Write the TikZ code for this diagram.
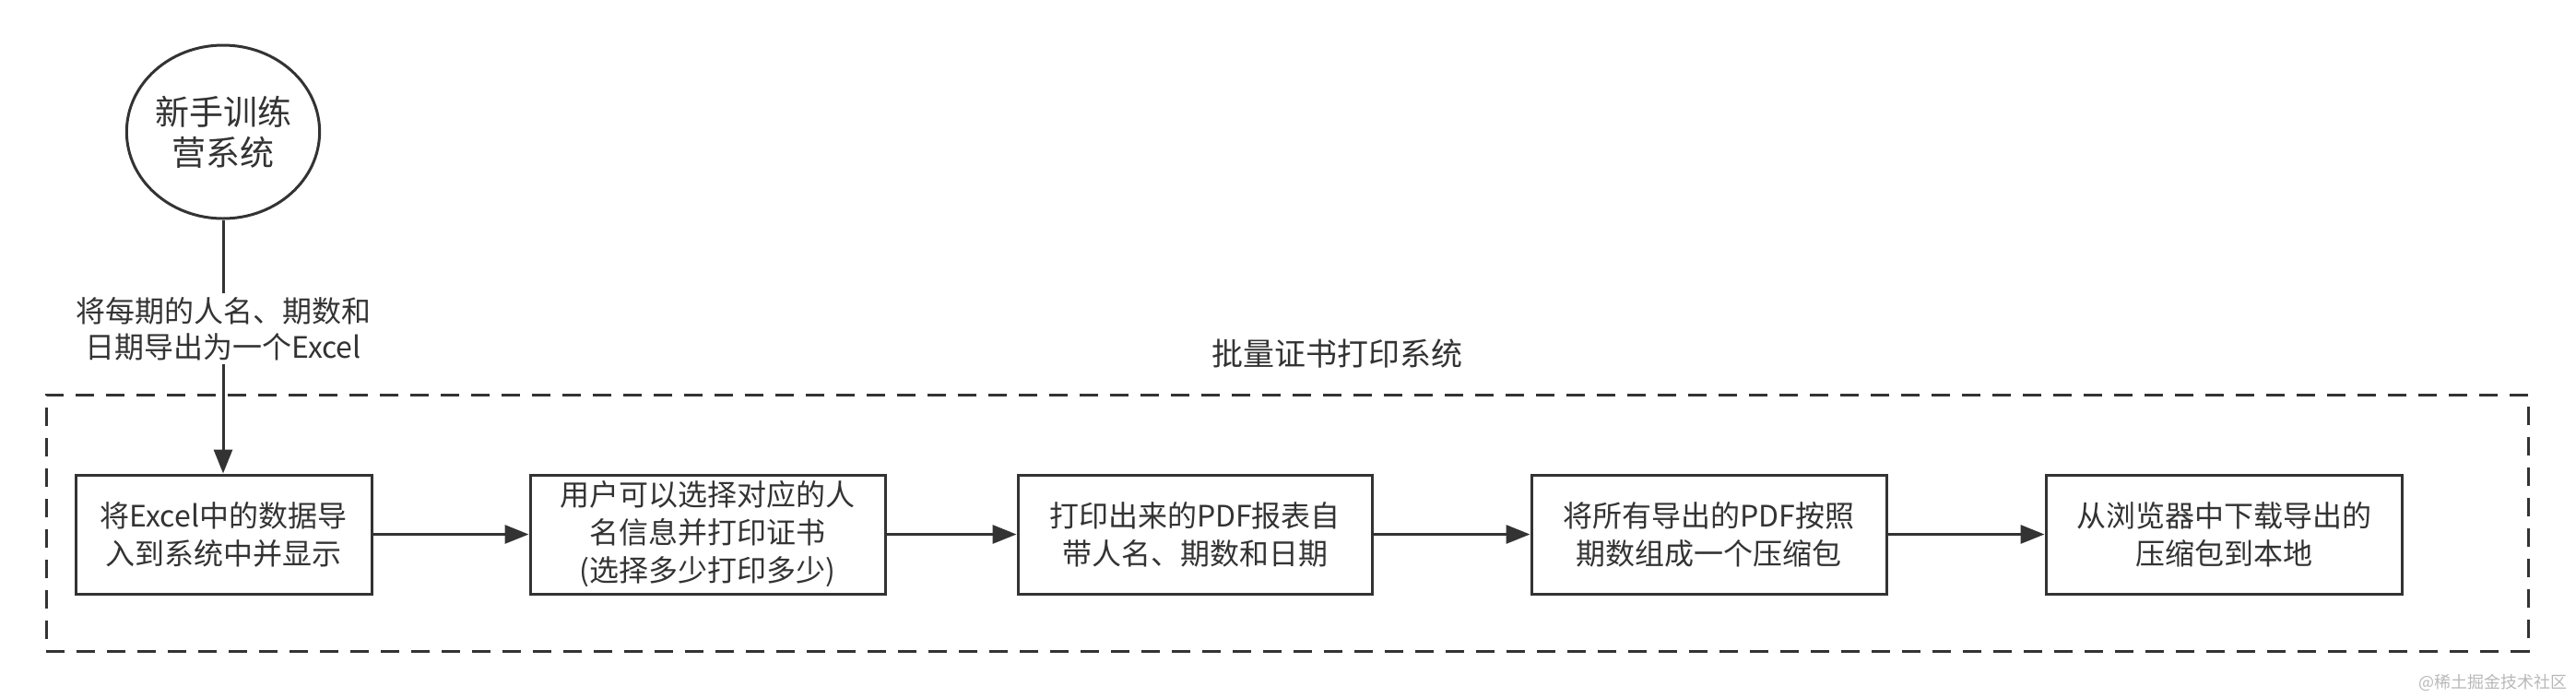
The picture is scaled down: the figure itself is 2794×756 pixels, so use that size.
\documentclass[tikz,border=0pt]{standalone}
\usepackage{fontspec}
\setmainfont{Noto Sans CJK SC}
\usetikzlibrary{arrows.meta,shapes.geometric}
\definecolor{ink}{HTML}{333333}
\definecolor{wm}{HTML}{B8B8B8}
\begin{document}
\begin{tikzpicture}[x=0.5pt,y=-0.5pt,
  every node/.style={text=ink},
  stepbox/.style={draw=ink,line width=1.5pt,minimum width=#1,minimum height=64.5pt,inner sep=0pt,align=center,font=\fontsize{16pt}{20.5pt}\selectfont},
  flow/.style={draw=ink,line width=1.5pt,-{Triangle[length=13pt,width=10pt]}},
  frame/.style={draw=ink,line width=1.5pt,dash pattern=on 10pt off 6.5pt,minimum width=1346pt,minimum height=139pt,inner sep=0pt},
]
\useasboundingbox (0,0) rectangle (2794,756);
\node[ellipse,draw=ink,line width=1.5pt,minimum width=100pt,minimum height=94pt,inner sep=0pt,align=center,font=\fontsize{18.5pt}{22pt}\selectfont] (sys) at (242,143) {新手训练\\营系统};
\node[frame] (fr) at (1396,567) {};
\node[font=\fontsize{17pt}{20pt}\selectfont] (title) at (1450,383) {批量证书打印系统};
\node[stepbox=160.5pt] (b1) at (242.5,579.5) {将Excel中的数据导\\入到系统中并显示};
\node[stepbox=192.5pt] (b2) at (767.5,579.5) {用户可以选择对应的人\\名信息并打印证书\\(选择多少打印多少)};
\node[stepbox=192pt] (b3) at (1296,579.5) {打印出来的PDF报表自\\带人名、期数和日期};
\node[stepbox=192.5pt] (b4) at (1853.5,579.5) {将所有导出的PDF按照\\期数组成一个压缩包};
\node[stepbox=193pt] (b5) at (2412,579.5) {从浏览器中下载导出的\\压缩包到本地};
\draw[flow] (sys.south) -- node[pos=0.43,fill=white,inner sep=2pt,align=center,font=\fontsize{16pt}{19.5pt}\selectfont] (lbl) {将每期的人名、期数和\\日期导出为一个Excel} (sys.south |- b1.north);
\draw[flow] (b1) -- (b2);
\draw[flow] (b2) -- (b3);
\draw[flow] (b3) -- (b4);
\draw[flow] (b4) -- (b5);
\node[text=wm,font=\fontsize{9pt}{11pt}\selectfont,anchor=east] (wmk) at (2792,740) {@稀土掘金技术社区};
\end{tikzpicture}
\end{document}
